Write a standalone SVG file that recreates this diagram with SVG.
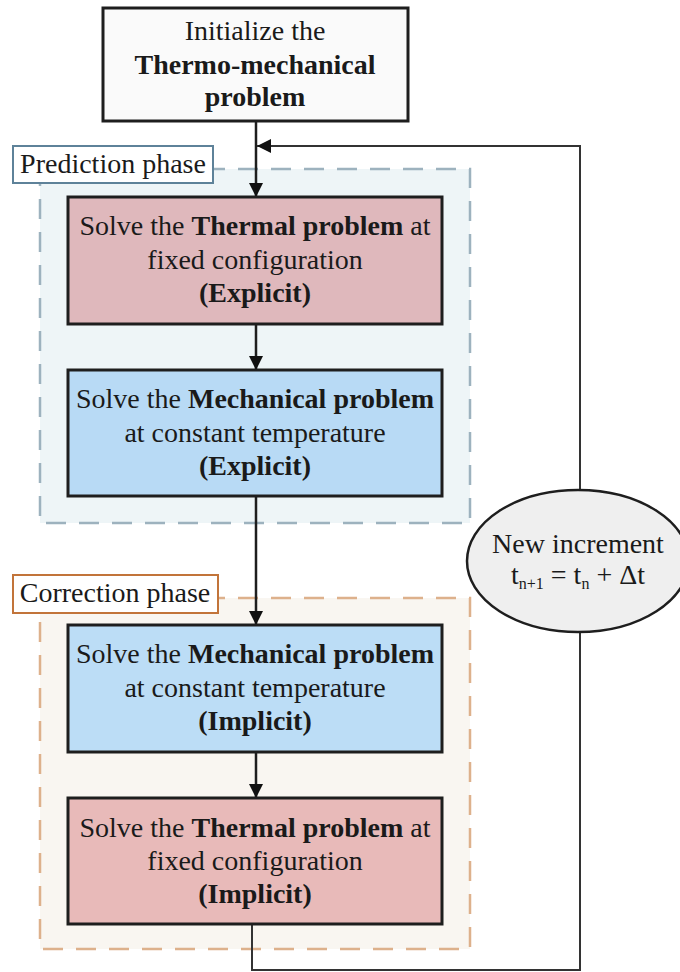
<svg xmlns="http://www.w3.org/2000/svg" width="680" height="972" viewBox="0 0 680 972">
<defs>
<style>
text{font-family:"Liberation Serif","Times New Roman",serif;font-size:28px;fill:#1a1a1a;text-anchor:middle}
.b{font-weight:bold}
.box{stroke:#1e1e1e;stroke-width:3}
.edge{fill:none;stroke:#1e1e1e;stroke-width:2.5}
.fb{fill:none;stroke:#333;stroke-width:2}
.sub{font-size:16px}
</style>
<marker id="ah" viewBox="0 0 10 10" refX="10" refY="5" markerWidth="14" markerHeight="14" markerUnits="userSpaceOnUse" orient="auto">
<path d="M0,0 L10,5 L0,10 z" fill="#111"/>
</marker>
</defs>
<rect width="680" height="972" fill="#fff"/>

<g id="prediction-phase">
<rect x="40" y="169" width="430" height="354" fill="#EEF5F7" stroke="#9DB2BE" stroke-width="2.5" stroke-dasharray="20 13"/>
<rect x="13" y="146" width="200" height="37" fill="#fff" stroke="#5E8299" stroke-width="2"/>
<text x="113" y="173">Prediction phase</text>
</g>

<g id="correction-phase">
<rect x="40" y="598" width="430" height="351" fill="#F9F6F1" stroke="#DDB18C" stroke-width="2.5" stroke-dasharray="20 13"/>
<rect x="13" y="575" width="205" height="38" fill="#fff" stroke="#C2743A" stroke-width="2"/>
<text x="115" y="602">Correction phase</text>
</g>

<g id="connectors">
<line class="edge" x1="256" y1="121" x2="256" y2="197" marker-end="url(#ah)"/>
<line class="edge" x1="256" y1="324" x2="256" y2="370" marker-end="url(#ah)"/>
<line class="edge" x1="256" y1="496" x2="256" y2="625" marker-end="url(#ah)"/>
<line class="edge" x1="256" y1="752" x2="256" y2="798" marker-end="url(#ah)"/>
<polyline class="fb" points="252,924 252,970 580,970 580,632"/>
<polyline class="fb" points="580,490 580,146 257,146" marker-end="url(#ah)"/>
</g>

<g id="init">
<rect class="box" x="103" y="8" width="305" height="113" fill="#FAFAFA"/>
<text x="255" y="40">Initialize the</text>
<text x="255" y="74" class="b">Thermo-mechanical</text>
<text x="255" y="106" class="b">problem</text>
</g>

<g id="thermal-explicit">
<rect class="box" x="68" y="197" width="374" height="127" fill="#DFB8BC"/>
<text x="255" y="235">Solve the <tspan class="b">Thermal problem</tspan> at</text>
<text x="255" y="269">fixed configuration</text>
<text x="255" y="302" class="b">(Explicit)</text>
</g>

<g id="mechanical-explicit">
<rect class="box" x="68" y="370" width="374" height="126" fill="#B8DAF5"/>
<text x="255" y="408">Solve the <tspan class="b">Mechanical problem</tspan></text>
<text x="255" y="442">at constant temperature</text>
<text x="255" y="475" class="b">(Explicit)</text>
</g>

<g id="mechanical-implicit">
<rect class="box" x="68" y="625" width="374" height="127" fill="#BCDDF6"/>
<text x="255" y="663">Solve the <tspan class="b">Mechanical problem</tspan></text>
<text x="255" y="697">at constant temperature</text>
<text x="255" y="730" class="b">(Implicit)</text>
</g>

<g id="thermal-implicit">
<rect class="box" x="68" y="798" width="374" height="126" fill="#E8BAB9"/>
<text x="255" y="837">Solve the <tspan class="b">Thermal problem</tspan> at</text>
<text x="255" y="870">fixed configuration</text>
<text x="255" y="903" class="b">(Implicit)</text>
</g>

<g id="new-increment">
<ellipse cx="578" cy="561" rx="111" ry="71" fill="#EFEFEF" stroke="#1e1e1e" stroke-width="2.5"/>
<text x="578" y="553">New increment</text>
<text x="578" y="584">t<tspan class="sub" dy="5">n+1</tspan><tspan dy="-5"> = t</tspan><tspan class="sub" dy="5">n</tspan><tspan dy="-5"> + Δt</tspan></text>
</g>
</svg>
